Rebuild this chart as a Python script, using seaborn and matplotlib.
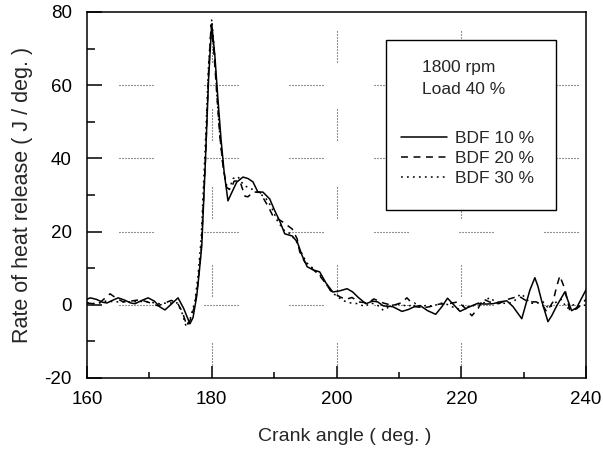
import numpy as np
import pandas as pd
import matplotlib
matplotlib.use("Agg")
import matplotlib.pyplot as plt
from matplotlib.patches import Rectangle
from matplotlib.ticker import MultipleLocator
import seaborn as sns

# Crank angle (deg.) and rate of heat release (J/deg.) for each blend
angle_bdf10 = [160.0, 160.5, 161.5, 162.5, 163.2, 164.2, 165.0, 166.0, 167.0, 167.7,
               168.8, 169.8, 170.8, 171.7, 172.5, 173.4, 174.6, 175.5, 176.5, 177.0,
               177.6, 178.0, 178.4, 179.0, 179.5, 180.0, 180.5, 181.0, 181.5, 182.0,
               182.6, 183.3, 184.0, 185.0, 185.8, 186.6, 187.4, 188.2, 189.3, 190.1,
               190.9, 191.7, 192.9, 193.7, 194.5, 195.3, 196.3, 197.3, 198.3, 199.4,
               200.5, 201.7, 202.6, 203.5, 204.7, 205.8, 206.6, 207.5, 209.0, 210.5,
               211.5, 212.5, 213.4, 214.6, 215.9, 216.9, 217.8, 218.8, 219.8, 221.0,
               222.5, 224.0, 225.1, 226.2, 227.3, 228.3, 229.7, 230.5, 231.0, 231.8,
               232.3, 232.9, 233.9, 234.5, 235.3, 236.6, 237.7, 238.5, 240.0]
hrr_bdf10 = [1.5, 1.9, 1.5, 0.7, 0.5, 1.3, 1.9, 1.3, 0.5, 0.3,
             1.2, 1.9, 1.0, -0.6, -1.4, 0.0, 1.9, -1.0, -5.2, -3.5,
             2.5, 9.0, 16.1, 40.0, 62.0, 76.7, 68.0, 56.0, 45.0, 36.0,
             28.4, 31.0, 33.5, 34.9, 34.5, 33.6, 30.8, 30.8, 28.9, 25.7,
             22.9, 19.4, 18.8, 17.2, 13.4, 10.4, 9.5, 9.0, 6.0, 3.5,
             3.8, 4.4, 3.5, 2.0, 0.3, 1.0, 0.8, -0.3, -0.5, -1.8,
             -1.3, -0.5, -0.2, -1.6, -2.6, -0.5, 1.8, 0.0, -1.8, -0.8,
             0.3, 0.2, 0.3, 0.8, 1.1, -0.5, -3.8, 1.0, 4.0, 7.4,
             5.0, 1.0, -4.6, -3.0, -0.3, 3.5, -1.6, -0.8, 4.1]

angle_bdf20 = [160.0, 161.0, 162.0, 163.0, 163.7, 164.7, 165.8, 167.0, 168.5, 170.0,
               171.4, 172.5, 173.5, 174.5, 175.3, 176.0, 176.6, 177.3, 177.8, 178.3,
               179.0, 179.5, 179.9, 180.3, 180.8, 181.3, 181.8, 182.4, 183.0, 183.6,
               184.5, 185.3, 185.8, 186.6, 187.7, 189.0, 189.8, 190.6, 191.5, 192.2,
               192.9, 193.7, 194.1, 194.9, 196.0, 197.0, 198.0, 199.0, 200.5, 201.5,
               202.5, 203.5, 205.0, 206.0, 207.5, 209.0, 210.3, 211.3, 212.6, 214.0,
               215.0, 216.5, 218.0, 219.5, 220.7, 221.7, 222.7, 223.5, 224.5, 226.0,
               227.5, 228.5, 229.4, 230.7, 232.0, 233.0, 233.7, 234.7, 235.3, 235.8,
               236.6, 237.4, 238.5, 239.2, 240.0]
hrr_bdf20 = [0.5, 0.3, 0.5, 2.0, 3.0, 1.8, 0.8, 1.0, 1.4, 0.6,
             -0.3, 0.5, 1.2, 0.5, -2.0, -5.7, -4.0, 0.0, 6.0, 15.0,
             40.0, 64.0, 76.5, 70.0, 58.0, 46.0, 38.0, 32.0, 31.5, 33.8,
             33.9, 29.7, 29.5, 30.8, 30.8, 27.0, 24.3, 23.5, 22.5, 21.6,
             20.7, 18.0, 14.5, 11.7, 10.0, 8.5, 6.5, 4.0, 2.2, 1.5,
             2.0, 0.8, 0.5, 1.6, 0.5, -0.2, 0.5, 1.9, -0.5, -0.8,
             -0.5, 0.2, 0.3, 0.8, -1.0, -3.0, -1.0, 1.6, 0.8, 0.3,
             1.5, 2.0, 2.2, 0.8, 0.8, 0.0, -1.9, 0.8, 5.0, 7.9,
             4.4, -1.6, -1.1, 0.0, 1.5]

angle_bdf30 = [160.0, 161.5, 163.0, 165.0, 167.0, 168.5, 170.0, 171.5, 173.0, 174.5,
               175.3, 175.9, 176.6, 177.3, 177.8, 178.3, 179.0, 179.5, 180.0, 180.4,
               180.8, 181.3, 181.8, 182.3, 182.8, 183.4, 184.2, 185.0, 185.8, 186.6,
               187.5, 188.5, 189.5, 190.5, 191.5, 192.5, 193.5, 194.3, 195.2, 196.2,
               197.2, 198.2, 199.2, 200.3, 201.3, 202.3, 203.5, 204.5, 205.5, 206.5,
               207.5, 208.5, 209.5, 210.5, 211.5, 212.5, 213.5, 214.5, 215.5, 216.5,
               217.5, 218.5, 219.5, 220.5, 221.5, 222.5, 223.5, 224.5, 225.5, 226.5,
               227.5, 228.5, 229.5, 230.3, 231.0, 232.0, 233.0, 234.0, 235.0, 236.0,
               237.0, 238.0, 239.0, 240.0]
hrr_bdf30 = [0.5, 0.3, 1.0, 0.8, 0.8, 0.9, 0.8, 0.3, 0.5, 0.5,
             -2.5, -6.0, -3.5, 1.0, 8.0, 18.0, 45.0, 66.0, 78.0, 70.0,
             58.0, 46.0, 38.0, 33.0, 31.5, 34.5, 35.0, 33.0, 32.0, 31.5,
             30.5, 29.5, 27.0, 23.0, 20.5, 19.5, 17.5, 14.5, 11.5, 10.0,
             8.5, 6.0, 3.5, 2.0, 1.0, 0.5, 0.3, -0.5, 0.5, 0.0,
             -1.5, -0.5, 0.3, 0.0, -0.5, 0.5, -0.8, 0.0, -0.5, 0.5,
             0.3, -0.5, -1.2, 0.0, -0.8, 0.5, 0.3, 2.0, 0.8, 0.5,
             0.3, 1.0, 3.0, 2.0, 0.5, 0.3, 1.0, -1.0, 0.5, 1.5,
             -1.0, 0.0, -0.5, 0.0]

series_labels = ["BDF 10 %", "BDF 20 %", "BDF 30 %"]
condition_lines = ["1800 rpm", "Load 40 %"]
x_ticks = [160, 180, 200, 220, 240]
y_ticks = [-20, 0, 20, 40, 60, 80]

sns.set_theme(style="ticks")
plt.rcParams["font.family"] = ["Liberation Sans", "DejaVu Sans"]
plt.rcParams["lines.scale_dashes"] = False
plt.rcParams["axes.unicode_minus"] = False

PX = 72.0 / 100.0  # points per pixel at 100 dpi

fig = plt.figure(figsize=(6.03, 4.59), dpi=100)
ax = fig.add_axes([87 / 603, 81 / 459, 499 / 603, 366 / 459])

frames = [
    pd.DataFrame({"angle": angle_bdf10, "hrr": hrr_bdf10}),
    pd.DataFrame({"angle": angle_bdf20, "hrr": hrr_bdf20}),
    pd.DataFrame({"angle": angle_bdf30, "hrr": hrr_bdf30}),
]
styles = ["-", (0, (5.0, 4.0)), (0, (1.3, 3.0))]
for df, ls, lab in zip(frames, styles, series_labels):
    sns.lineplot(data=df, x="angle", y="hrr", ax=ax, color="black",
                 linestyle=ls, linewidth=1.1, estimator=None, sort=False,
                 label=lab, zorder=3)

ax.set_xlim(160, 240)
ax.set_ylim(-20, 80)
ax.set_xticks(x_ticks)
ax.set_yticks(y_ticks)
ax.xaxis.set_minor_locator(MultipleLocator(10))
ax.yaxis.set_minor_locator(MultipleLocator(10))

ax.tick_params(axis="both", which="both", direction="in", width=1.1,
               colors="black", labelsize=13.5)
ax.tick_params(axis="x", which="major", length=12 * PX, pad=9)
ax.tick_params(axis="x", which="minor", length=6 * PX)
ax.tick_params(axis="y", which="major", length=15 * PX, pad=11)
ax.tick_params(axis="y", which="minor", length=8 * PX)
for sp in ax.spines.values():
    sp.set_linewidth(1.1)
    sp.set_color("black")

# broken dotted grid: short dotted runs separated by long gaps
def dotted_run(run_px, gap_px, offset_px):
    seq = []
    n = int(run_px / 3)
    for _ in range(n):
        seq += [1.0 * PX, 2.0 * PX]
    seq[-1] = gap_px * PX
    return (offset_px * PX, tuple(seq))

for yv in [0, 20, 40, 60]:
    ax.axhline(yv, color="0.15", linewidth=0.8,
               linestyle=dotted_run(36, 51, 53), zorder=1)
for xv in [180, 200, 220]:
    ax.axvline(xv, color="0.15", linewidth=0.8,
               linestyle=dotted_run(33, 47, 74), zorder=1)

ax.set_xlabel("Crank angle ( deg. )", fontsize=14, labelpad=15)
ax.xaxis.label.set_x(0.517)
ax.set_ylabel("Rate of heat release ( J / deg. )", fontsize=15.5, labelpad=8)

# condition box with legend
ax.add_patch(Rectangle((0.599, 0.459), 0.341, 0.464, transform=ax.transAxes,
                       facecolor="white", edgecolor="black", linewidth=1.0,
                       zorder=4))
ax.text(0.671, 0.847, condition_lines[0], transform=ax.transAxes,
        ha="left", va="center", fontsize=12.5, zorder=5)
ax.text(0.671, 0.787, condition_lines[1], transform=ax.transAxes,
        ha="left", va="center", fontsize=12.5, zorder=5)
leg = ax.legend(loc="upper left", bbox_to_anchor=(0.629, 0.676), frameon=False,
                fontsize=12.5, handlelength=2.65, handletextpad=0.45,
                labelspacing=0.28, borderpad=0, borderaxespad=0)
leg.set_zorder(6)

fig.savefig("out.png", dpi=100)
